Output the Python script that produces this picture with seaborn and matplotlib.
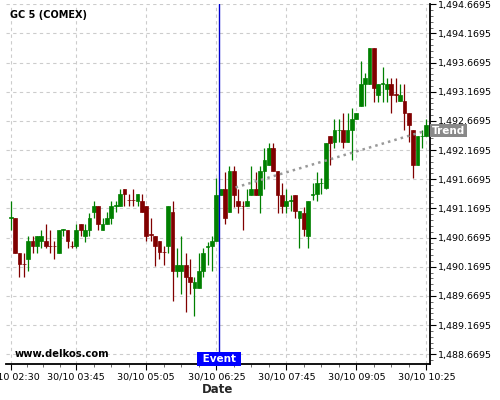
import numpy as np
import pandas as pd
import matplotlib
matplotlib.use("Agg")
import matplotlib.pyplot as plt
import matplotlib.dates as mdates
import matplotlib.ticker as mticker
from matplotlib.transforms import blended_transform_factory
import seaborn as sns

# 5-minute candles, starting 30/10 02:30
START = "2019-10-30 02:30"
OPEN = [
    1491.01, 1491.00, 1490.41, 1490.22, 1490.31, 1490.61, 1490.52, 1490.61, 1490.61, 1490.53,
    1490.53, 1490.41, 1490.80, 1490.80, 1490.53, 1490.52, 1490.90, 1490.70, 1490.80, 1491.11,
    1491.21, 1490.80, 1490.90, 1491.00, 1491.22, 1491.21, 1491.50, 1491.32, 1491.32, 1491.30,
    1491.30, 1491.21, 1490.73, 1490.70, 1490.61, 1490.43, 1490.52, 1491.11, 1490.10, 1490.10,
    1490.20, 1490.00, 1489.81, 1489.81, 1490.10, 1490.51, 1490.52, 1490.61, 1491.40, 1491.50,
    1491.11, 1491.81, 1491.30, 1491.22, 1491.21, 1491.40, 1491.50, 1491.40, 1491.81, 1491.92,
    1492.20, 1491.81, 1491.40, 1491.21, 1491.30, 1491.40, 1491.01, 1491.10, 1490.70, 1491.40,
    1491.41, 1491.60, 1491.52, 1492.41, 1492.31, 1492.51, 1492.52, 1492.31, 1492.52, 1492.70,
    1492.92, 1493.30, 1493.30, 1493.92, 1493.12, 1493.31, 1493.22, 1493.30, 1493.13, 1493.01,
    1493.01, 1492.80, 1492.52, 1491.92, 1492.41, 1492.41,
]
HIGH = [
    1491.29, 1491.00, 1490.41, 1490.40, 1490.70, 1490.70, 1490.70, 1490.80, 1490.90, 1490.80,
    1490.61, 1490.80, 1490.81, 1490.80, 1490.61, 1490.90, 1490.90, 1490.90, 1491.10, 1491.30,
    1491.21, 1491.00, 1491.11, 1491.30, 1491.29, 1491.50, 1491.50, 1491.41, 1491.50, 1491.41,
    1491.41, 1491.21, 1491.00, 1490.70, 1490.61, 1490.52, 1491.21, 1491.30, 1490.50, 1490.69,
    1490.40, 1490.30, 1490.00, 1490.40, 1490.50, 1490.60, 1490.70, 1491.70, 1491.50, 1491.80,
    1491.90, 1491.90, 1491.50, 1491.30, 1491.50, 1491.90, 1491.80, 1491.90, 1492.20, 1492.30,
    1492.30, 1491.81, 1491.60, 1491.50, 1491.40, 1491.40, 1491.12, 1491.20, 1491.30, 1491.60,
    1491.80, 1491.70, 1492.30, 1492.41, 1492.70, 1492.70, 1492.80, 1492.80, 1492.90, 1492.80,
    1493.70, 1493.50, 1493.92, 1493.92, 1493.30, 1493.60, 1493.40, 1493.40, 1493.40, 1493.30,
    1493.30, 1492.80, 1492.52, 1492.41, 1492.52, 1492.70,
]
LOW = [
    1490.80, 1490.41, 1489.99, 1489.99, 1490.10, 1490.40, 1490.40, 1490.50, 1490.50, 1490.40,
    1490.30, 1490.40, 1490.70, 1490.50, 1490.50, 1490.50, 1490.70, 1490.60, 1490.70, 1491.00,
    1490.80, 1490.80, 1490.90, 1490.90, 1491.11, 1491.21, 1491.21, 1491.21, 1491.21, 1491.21,
    1491.11, 1490.61, 1490.62, 1490.19, 1490.30, 1490.20, 1490.40, 1489.59, 1490.00, 1489.70,
    1489.39, 1489.70, 1489.32, 1489.80, 1490.00, 1490.20, 1490.10, 1490.61, 1491.40, 1490.90,
    1491.11, 1491.20, 1491.10, 1490.80, 1491.21, 1491.40, 1491.40, 1491.10, 1491.50, 1491.92,
    1491.81, 1491.10, 1491.10, 1491.10, 1491.12, 1491.00, 1490.50, 1490.70, 1490.50, 1491.31,
    1491.30, 1491.41, 1491.50, 1491.91, 1492.20, 1492.31, 1492.20, 1492.31, 1492.00, 1492.70,
    1492.92, 1492.92, 1493.30, 1493.00, 1493.00, 1493.00, 1493.00, 1492.80, 1493.00, 1493.01,
    1492.52, 1492.31, 1491.70, 1491.92, 1492.20, 1492.41,
]
CLOSE = [
    1491.02, 1490.41, 1490.21, 1490.21, 1490.61, 1490.52, 1490.70, 1490.70, 1490.52, 1490.52,
    1490.52, 1490.80, 1490.81, 1490.61, 1490.52, 1490.80, 1490.80, 1490.80, 1491.00, 1491.21,
    1490.90, 1490.90, 1491.00, 1491.21, 1491.23, 1491.41, 1491.41, 1491.31, 1491.31, 1491.41,
    1491.11, 1490.70, 1490.71, 1490.52, 1490.42, 1490.42, 1491.21, 1490.10, 1490.20, 1490.20,
    1490.00, 1489.91, 1489.91, 1490.10, 1490.40, 1490.52, 1490.61, 1491.40, 1491.50, 1491.01,
    1491.81, 1491.40, 1491.21, 1491.21, 1491.30, 1491.50, 1491.40, 1491.81, 1492.00, 1492.20,
    1491.81, 1491.40, 1491.21, 1491.30, 1491.32, 1491.12, 1491.12, 1490.81, 1491.30, 1491.41,
    1491.60, 1491.61, 1492.30, 1492.30, 1492.52, 1492.52, 1492.31, 1492.52, 1492.70, 1492.80,
    1493.30, 1493.40, 1493.92, 1493.23, 1493.30, 1493.32, 1493.30, 1493.12, 1493.12, 1493.12,
    1492.80, 1492.60, 1491.92, 1492.41, 1492.42, 1492.60,
]

X_TICKS = ["02:30", "03:45", "05:05", "06:25", "07:45", "09:05", "10:25"]
X_TICK_LABELS = ["30/10 " + t for t in X_TICKS]
Y_TICKS = [1488.6695, 1489.1695, 1489.6695, 1490.1695, 1490.6695, 1491.1695, 1491.6695,
           1492.1695, 1492.6695, 1493.1695, 1493.6695, 1494.1695, 1494.6695]

EVENT_TIME = "2019-10-30 06:28"
TREND_TIME = ["2019-10-30 06:47", "2019-10-30 10:24"]
TREND_PRICE = [1491.53, 1492.50]

GREEN = "#008000"
RED = "#800000"

times = pd.date_range(START, periods=len(OPEN), freq="5min")
df = pd.DataFrame({"time": times, "open": OPEN, "high": HIGH, "low": LOW, "close": CLOSE})
df["x"] = mdates.date2num(df["time"])
df["colour"] = np.where(df["close"] >= df["open"], GREEN, RED)
step = 5 / 1440

sns.set_theme(style="white")
plt.rcParams["font.family"] = ["DejaVu Sans"]
plt.rcParams["text.color"] = "black"

fig = plt.figure(figsize=(5, 4), dpi=100)
ax = fig.add_axes([0.012, 0.09, 0.848, 0.9])

ax.grid(True, color="#cccccc", linestyle=(0, (3, 3)), linewidth=0.8, zorder=0)
ax.set_axisbelow(True)

ax.vlines(df["x"], df["low"], df["high"], colors=df["colour"], linewidth=0.9, zorder=2)
ax.bar(
    df["x"],
    (df["close"] - df["open"]).abs(),
    bottom=df[["open", "close"]].min(axis=1),
    width=step * 0.85,
    color=df["colour"],
    edgecolor=df["colour"],
    linewidth=0.5,
    zorder=3,
)

trend = pd.DataFrame({"x": mdates.date2num(pd.to_datetime(TREND_TIME)), "y": TREND_PRICE})
sns.lineplot(data=trend, x="x", y="y", ax=ax, color="#999999", linestyle=":", linewidth=1.8, zorder=4)

ev = mdates.date2num(pd.Timestamp(EVENT_TIME))
ax.axvline(ev, color="#0000cc", linewidth=1.0, zorder=5)

x0 = df["x"].iloc[0]
ax.set_xlim(x0 - 1.07 * step, x0 + 95.84 * step)
ax.set_ylim(1488.503, 1494.675)

major_x = mdates.date2num(pd.to_datetime(["2019-10-30 " + t for t in X_TICKS]))
minor_x = [a + (b - a) * k / 4 for a, b in zip(major_x[:-1], major_x[1:]) for k in (1, 2, 3)]
ax.set_xticks(major_x)
ax.set_xticklabels(X_TICK_LABELS)
ax.set_xticks(minor_x, minor=True)

ax.yaxis.tick_right()
ax.set_yticks(Y_TICKS)
ax.yaxis.set_major_formatter(mticker.FuncFormatter(lambda v, p: f"{v:,.4f}"))
ax.yaxis.set_minor_locator(mticker.AutoMinorLocator(5))

ax.tick_params(axis="both", which="major", length=4, width=0.8, labelsize=6.8,
               colors="black", direction="out", pad=2)
ax.tick_params(axis="both", which="minor", length=2.5, width=0.6, color="#555555", direction="out")
ax.tick_params(axis="x", which="both", bottom=True, top=False)
ax.tick_params(axis="y", which="both", right=True, left=False)
ax.set_xlabel("Date", fontsize=8.5, fontweight="bold", labelpad=1)
ax.set_ylabel("")

for side in ("left", "top"):
    ax.spines[side].set_visible(False)
for side in ("right", "bottom"):
    ax.spines[side].set_color("black")
    ax.spines[side].set_linewidth(1.3)

ax.text(ev, 1488.503, " Event ", ha="center", va="bottom", color="white", fontsize=7.5,
        fontweight="bold", zorder=6,
        bbox=dict(boxstyle="square,pad=0.15", fc="#0000ff", ec="none"))

trans = blended_transform_factory(ax.transAxes, ax.transData)
ax.text(1.004, TREND_PRICE[-1], "Trend", transform=trans, ha="left", va="center", color="white",
        fontsize=7.5, fontweight="bold", clip_on=False, zorder=6,
        bbox=dict(boxstyle="square,pad=0.15", fc="#888888", ec="none"))

fig.text(10 / 500, 1 - 15 / 400, "GC 5 (COMEX)", fontsize=7, fontweight="bold", va="center")
fig.text(15 / 500, 1 - 354 / 400, "www.delkos.com", fontsize=7.2, fontweight="bold", va="center")

fig.savefig("out.png", dpi=100, facecolor="white")
